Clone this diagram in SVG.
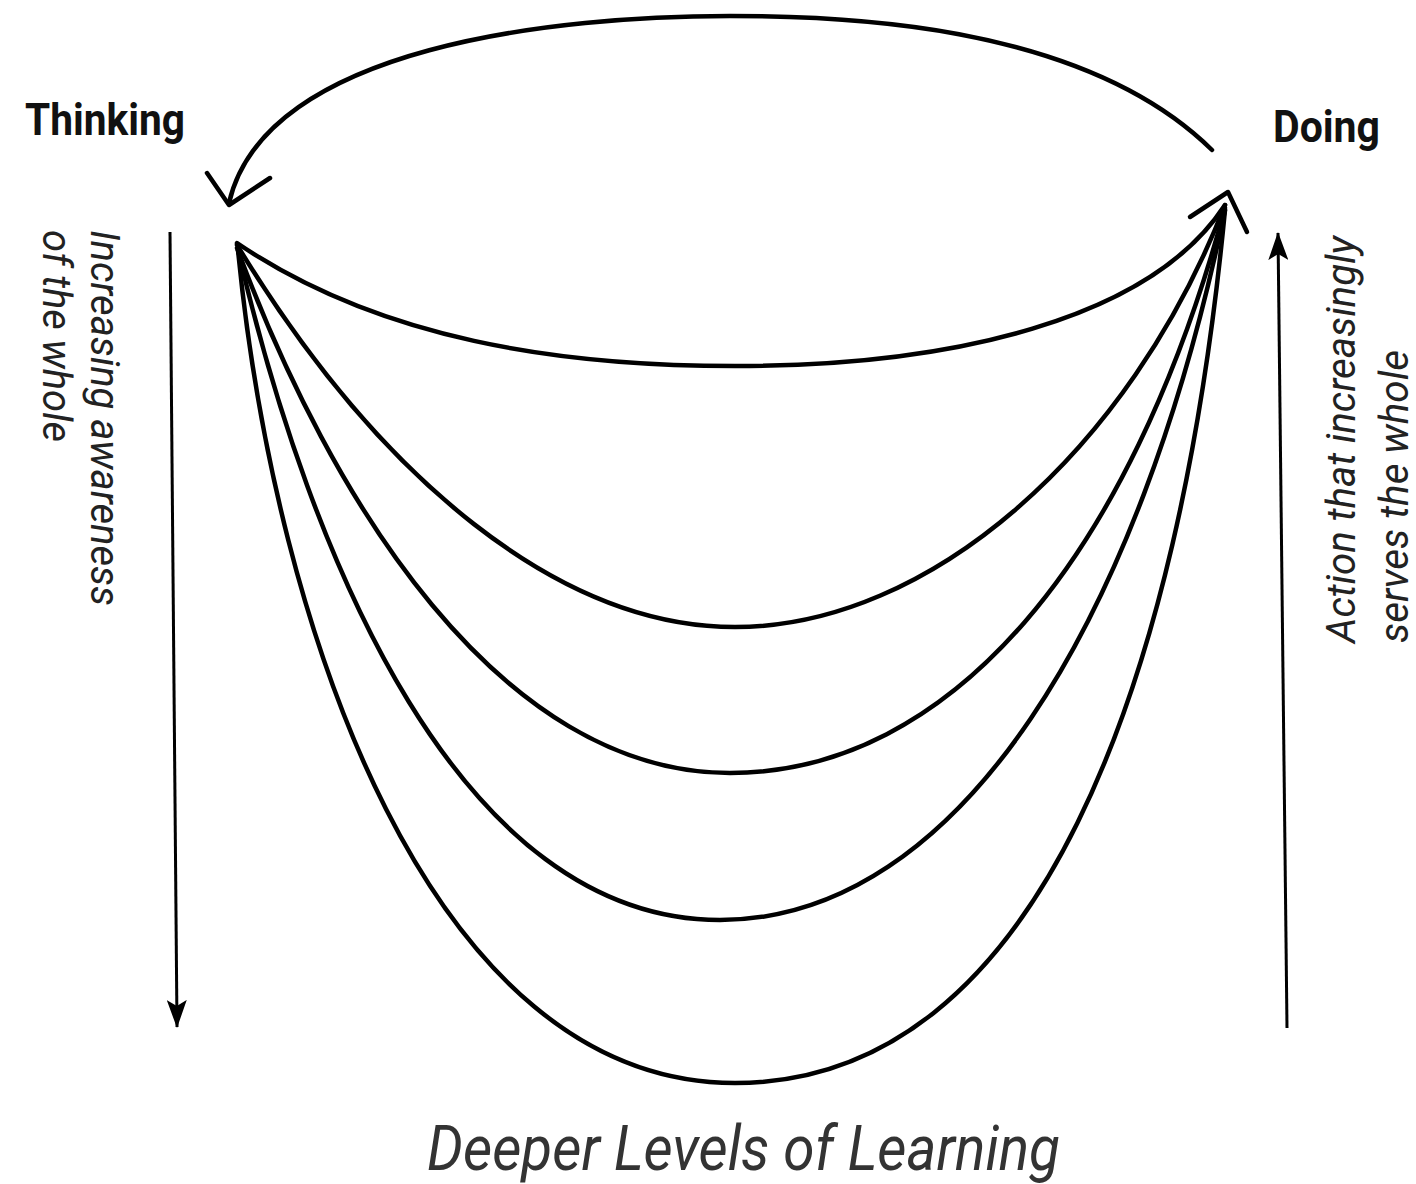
<svg xmlns="http://www.w3.org/2000/svg" width="1416" height="1184" viewBox="0 0 1416 1184">
<defs>
<style>
.c{fill:none;stroke:#000;stroke-width:4.5;stroke-linecap:round;stroke-linejoin:round}
.v{fill:none;stroke:#000;stroke-width:3}
.lbl{font-family:Roboto,"Liberation Sans",sans-serif;font-weight:bold;font-size:44px;fill:#111}
.side{font-family:Roboto,"Liberation Sans",sans-serif;font-style:italic;font-size:40px;fill:#222}
.title{font-family:Roboto,"Liberation Sans",sans-serif;font-style:italic;font-size:62px;fill:#333}
</style>
<marker id="ah" viewBox="0 0 28 20" refX="27" refY="10" markerWidth="28" markerHeight="20" markerUnits="userSpaceOnUse" orient="auto">
<path d="M0,0 L28,10 L0,20 L6,10 Z" fill="#000"/>
</marker>
</defs>
<rect width="1416" height="1184" fill="#fff"/>
<g id="thinking"><text class="lbl" x="25" y="135" textLength="160" lengthAdjust="spacingAndGlyphs">Thinking</text></g>
<g id="doing"><text class="lbl" x="1273" y="142" textLength="107" lengthAdjust="spacingAndGlyphs">Doing</text></g>
<g id="left-label">
<text class="side" transform="translate(91,230) rotate(90)" textLength="376" lengthAdjust="spacingAndGlyphs">Increasing awareness</text>
<text class="side" transform="translate(43,230) rotate(90)" textLength="212" lengthAdjust="spacingAndGlyphs">of the whole</text>
</g>
<g id="right-label">
<text class="side" transform="translate(1355,643) rotate(-90)" textLength="407" lengthAdjust="spacingAndGlyphs">Action that increasingly</text>
<text class="side" transform="translate(1408,643) rotate(-90)" textLength="293" lengthAdjust="spacingAndGlyphs">serves the whole</text>
</g>
<g id="title"><text class="title" x="427" y="1170" textLength="633" lengthAdjust="spacingAndGlyphs">Deeper Levels of Learning</text></g>
<g id="connectors">
<path class="c" d="M1212,150 C1080,20 830,16 730,16 C560,16 265,45 229,203"/>
<polyline class="c" points="207,173 229,205 270,178"/>
<polyline class="c" points="1190,217 1228,192 1247,232"/>
<path class="c" d="M237,243 C380,340 560,366 735,366 C950,366 1150,320 1225,205"/>
<path class="c" d="M237,245 C380,480 560,627 735,627 C930,627 1130,450 1225,205"/>
<path class="c" d="M237,248 C330,500 500,773 730,773 C950,773 1130,560 1225,208"/>
<path class="c" d="M238,250 C310,560 460,920 720,920 C960,920 1140,620 1225,210"/>
<path class="c" d="M238,250 C275,630 430,1083 735,1083 C1040,1083 1180,680 1225,210"/>
<path class="v" d="M170,232 L177,1027" marker-end="url(#ah)"/>
<path class="v" d="M1287,1028 L1278,233" marker-end="url(#ah)"/>
</g>
</svg>
